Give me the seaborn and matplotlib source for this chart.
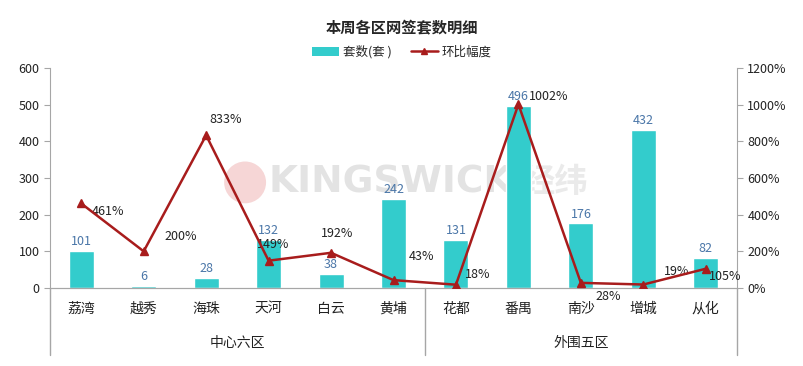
import matplotlib
matplotlib.use("Agg")
import matplotlib.pyplot as plt
import matplotlib.transforms as mtransforms
from matplotlib.lines import Line2D
from matplotlib.patches import Patch, Ellipse
import seaborn as sns
import pandas as pd

# ---- data ----
districts = ["荔湾", "越秀", "海珠", "天河", "白云", "黄埔", "花都", "番禺", "南沙", "增城", "从化"]
groups = ["中心六区", "外围五区"]
group_sizes = [6, 5]
units = [101, 6, 28, 132, 38, 242, 131, 496, 176, 432, 82]
change_pct = [461, 200, 833, 149, 192, 43, 18, 1002, 28, 19, 105]
left_ticks = [0, 100, 200, 300, 400, 500, 600]
right_ticks = [0, 200, 400, 600, 800, 1000, 1200]

# label offsets (pixels) for percentage labels
pct_offsets = [(27, -8), (37, 15), (19, 16), (5, 16), (6, 19), (28, 24),
               (22, 10), (30, 8), (27, -14), (33, 13), (19, -8)]

sns.set_style("white")
plt.rcParams["font.family"] = ["Noto Sans CJK SC", "DejaVu Sans"]

BAR = "#33CCCC"
LINE = "#A81C1C"
GRAY = "#A6A6A6"

fig = plt.figure(figsize=(8.04, 3.66), dpi=100)
ax = fig.add_axes([50 / 804, 1 - 288 / 366, 687 / 804, 220 / 366])

df = pd.DataFrame({"区": districts, "套数": units, "环比": change_pct})

# watermark
ax.text(0.496, 0.48, "KINGSWICK", transform=ax.transAxes, fontsize=27, fontweight="bold",
        color="#E3E3E3", ha="center", va="center", family=["DejaVu Sans"], zorder=0)
ax.text(0.735, 0.48, "经纬", transform=ax.transAxes, fontsize=24, fontweight="bold",
        color="#EAEAEA", ha="center", va="center", zorder=0)
ax.add_patch(Ellipse((0.284, 0.48), 0.061, 0.19, transform=ax.transAxes,
                     color="#F6D6D6", zorder=0, lw=0))

sns.barplot(data=df, x="区", y="套数", ax=ax, color=BAR, width=0.4, saturation=1, zorder=2)
ax.set_ylim(0, 600)
ax.set_xlim(-0.5, len(districts) - 0.5)
ax.set_yticks(left_ticks)
ax.set_xlabel("")
ax.set_ylabel("")

for i, v in enumerate(units):
    ax.annotate(str(v), (i, v), xytext=(0, 2), textcoords="offset points",
                ha="center", va="bottom", fontsize=9, color="#4A76A8")

ax2 = ax.twinx()
ax2.plot(range(len(districts)), change_pct, color=LINE, lw=1.8, marker="^",
         markersize=6, zorder=5)
ax2.set_ylim(0, 1200)
ax2.set_yticks(right_ticks)
ax2.set_yticklabels([f"{t}%" for t in right_ticks])
ax2.set_xlim(-0.5, len(districts) - 0.5)
for i, (v, off) in enumerate(zip(change_pct, pct_offsets)):
    ax2.annotate(f"{v}%", (i, v), xytext=off, textcoords="offset pixels",
                 ha="center", va="center", fontsize=9, color="#222222")

for a in (ax, ax2):
    a.spines["top"].set_visible(False)
    a.spines["left"].set_color(GRAY)
    a.spines["right"].set_color(GRAY)
    a.spines["bottom"].set_color(GRAY)
    a.tick_params(axis="y", length=4, color=GRAY, labelsize=9, labelcolor="#222222", direction="out")

ax.tick_params(axis="y", left=True, right=False)
ax2.tick_params(axis="y", right=True, left=False)
ax.spines["right"].set_visible(False)
ax2.spines["left"].set_visible(False)

# x ticks: category labels, separators as minor ticks
ax.set_xticks(range(len(districts)))
ax.set_xticklabels(districts, fontsize=10, color="#222222")
ax.tick_params(axis="x", which="major", length=0, pad=10)
ax.set_xticks([i + 0.5 for i in range(len(districts) - 1)], minor=True)
ax.tick_params(axis="x", which="minor", length=24, color=GRAY, width=1)

# extended lines (axes spines and group separator)
trans = mtransforms.blended_transform_factory(ax.transData, ax.transAxes)
ext = -67 / 220
for xa in [0, 1]:
    ax.add_line(Line2D([xa, xa], [0, ext], transform=ax.transAxes, color=GRAY,
                       lw=1, clip_on=False))
start = 0
for g, n in zip(groups, group_sizes):
    center = start + (n - 1) / 2
    ax.text(center, -55 / 220, g, transform=trans, ha="center", va="center",
            fontsize=10, color="#222222")
    start += n
    if start < len(districts):
        ax.add_line(Line2D([start - 0.5, start - 0.5], [0, ext], transform=trans,
                           color=GRAY, lw=1, clip_on=False))

# title and legend
fig.text(0.5, 1 - 27 / 366, "本周各区网签套数明细", ha="center", va="center",
         fontsize=11, fontweight="bold")
handles = [Patch(facecolor=BAR, edgecolor="none"),
           Line2D([0], [0], color=LINE, lw=1.8, marker="^", markersize=5)]
fig.legend(handles, ["套数(套 )", "环比幅度"], loc="center", bbox_to_anchor=(0.5, 1 - 52 / 366),
           ncol=2, frameon=False, fontsize=9, handlelength=2.2, columnspacing=1.5,
           handletextpad=0.3)

fig.savefig("out.png", dpi=100)
